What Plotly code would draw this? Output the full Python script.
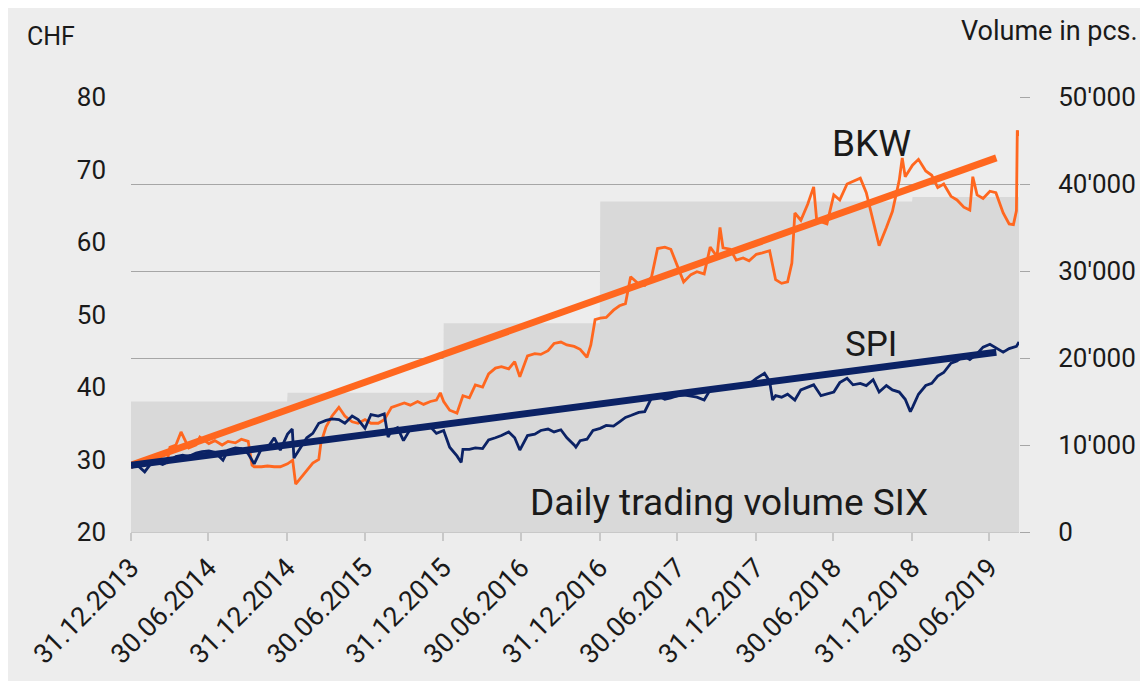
import plotly.graph_objects as go

# ---------------- data ----------------
bkw_dates = ["2013-12-31","2014-01-15","2014-02-01","2014-02-15","2014-03-01","2014-03-15","2014-03-25","2014-04-01","2014-04-15","2014-04-27","2014-05-15","2014-06-01","2014-06-10","2014-07-01","2014-07-15","2014-08-01","2014-08-15","2014-09-01","2014-09-15","2014-10-01","2014-10-10","2014-10-15","2014-11-01","2014-11-15","2014-12-01","2014-12-15","2015-01-01","2015-01-13","2015-01-20","2015-02-01","2015-02-15","2015-03-01","2015-03-15","2015-03-20","2015-04-01","2015-04-15","2015-05-01","2015-05-15","2015-06-01","2015-06-15","2015-07-01","2015-07-15","2015-08-01","2015-08-15","2015-09-01","2015-09-15","2015-10-01","2015-10-15","2015-11-01","2015-11-15","2015-12-01","2015-12-15","2015-12-24","2016-01-01","2016-01-15","2016-02-01","2016-02-15","2016-03-01","2016-03-15","2016-04-01","2016-04-15","2016-05-01","2016-05-15","2016-06-01","2016-06-15","2016-06-27","2016-07-15","2016-08-01","2016-08-15","2016-09-01","2016-09-15","2016-10-01","2016-10-15","2016-11-01","2016-11-15","2016-12-01","2016-12-10","2016-12-20","2017-01-01","2017-01-15","2017-02-01","2017-02-15","2017-03-01","2017-03-13","2017-04-01","2017-04-15","2017-05-01","2017-05-15","2017-06-01","2017-06-15","2017-07-01","2017-07-15","2017-08-01","2017-08-15","2017-09-01","2017-09-15","2017-10-01","2017-10-08","2017-10-15","2017-11-01","2017-11-15","2017-12-01","2017-12-15","2018-01-01","2018-01-15","2018-02-01","2018-02-15","2018-03-01","2018-03-15","2018-03-25","2018-04-01","2018-04-15","2018-05-01","2018-05-15","2018-05-22","2018-06-01","2018-06-15","2018-07-01","2018-07-15","2018-08-01","2018-08-15","2018-09-01","2018-09-15","2018-10-01","2018-10-15","2018-11-01","2018-11-15","2018-12-01","2018-12-08","2018-12-15","2019-01-01","2019-01-15","2019-02-01","2019-02-15","2019-03-01","2019-03-15","2019-04-01","2019-04-15","2019-05-01","2019-05-15","2019-05-22","2019-06-01","2019-06-15","2019-07-01","2019-07-15","2019-08-01","2019-08-15","2019-08-25","2019-09-01","2019-09-03","2019-09-07"]
bkw_values = [28.9,29.3,29.4,29.8,29.5,29.9,29.6,31.7,32.0,33.8,31.6,32.0,33.1,32.2,32.6,32.0,32.5,32.3,32.8,32.5,29.2,29.0,29.0,29.1,29.0,29.0,29.4,29.9,26.6,27.5,28.5,29.5,30.0,32.3,34.5,36.0,37.2,36.0,35.2,35.0,35.5,35.0,35.0,35.5,37.2,37.5,37.8,37.5,38.0,37.6,38.0,38.2,39.2,38.0,36.8,36.4,38.8,38.5,40.3,40.0,41.8,42.6,42.8,42.5,43.5,41.4,44.3,44.6,44.5,45.0,46.0,46.2,45.8,45.6,45.2,44.1,45.8,49.3,49.5,49.6,50.6,51.2,51.5,55.2,54.2,54.0,55.2,59.1,59.3,59.0,56.6,54.5,55.5,55.9,55.6,59.3,58.0,62.0,59.2,59.0,57.5,57.8,57.4,58.3,58.5,58.8,54.8,54.3,54.5,57.1,64.0,63.0,65.2,67.6,63.0,62.8,62.5,66.5,65.8,68.0,68.4,68.8,66.8,62.8,59.5,62.0,64.2,68.5,71.6,69.0,70.6,71.4,69.8,69.2,67.5,68.0,66.3,65.8,64.8,64.4,69.0,66.5,66.0,67.0,66.8,64.0,62.5,62.4,64.3,75.4,74.6]

spi_dates = ["2013-12-31","2014-01-15","2014-02-01","2014-02-15","2014-03-01","2014-03-15","2014-04-01","2014-04-15","2014-05-01","2014-05-15","2014-06-01","2014-06-15","2014-07-01","2014-07-15","2014-08-03","2014-08-15","2014-09-01","2014-09-15","2014-10-01","2014-10-15","2014-11-01","2014-11-15","2014-12-01","2014-12-15","2015-01-01","2015-01-12","2015-01-16","2015-02-01","2015-02-15","2015-03-01","2015-03-15","2015-04-01","2015-04-15","2015-05-01","2015-05-15","2015-06-01","2015-06-15","2015-07-01","2015-07-15","2015-08-01","2015-08-15","2015-08-24","2015-09-01","2015-09-15","2015-09-29","2015-10-15","2015-11-01","2015-11-15","2015-12-01","2015-12-15","2016-01-01","2016-01-15","2016-02-01","2016-02-11","2016-02-15","2016-03-01","2016-03-15","2016-04-01","2016-04-15","2016-05-01","2016-05-15","2016-06-01","2016-06-15","2016-06-27","2016-07-15","2016-08-01","2016-08-15","2016-09-01","2016-09-15","2016-10-01","2016-10-15","2016-11-01","2016-11-05","2016-11-15","2016-12-01","2016-12-15","2017-01-01","2017-01-15","2017-02-01","2017-02-15","2017-03-01","2017-03-15","2017-04-01","2017-04-15","2017-05-01","2017-05-15","2017-06-01","2017-06-15","2017-07-01","2017-07-15","2017-08-01","2017-08-15","2017-09-01","2017-09-15","2017-10-01","2017-10-15","2017-11-01","2017-11-15","2017-12-01","2017-12-15","2018-01-01","2018-01-20","2018-02-01","2018-02-08","2018-02-15","2018-03-01","2018-03-15","2018-04-01","2018-04-15","2018-05-01","2018-05-15","2018-06-01","2018-06-15","2018-07-01","2018-07-15","2018-08-01","2018-08-15","2018-09-01","2018-09-15","2018-10-01","2018-10-15","2018-11-01","2018-11-15","2018-12-01","2018-12-15","2018-12-27","2019-01-01","2019-01-15","2019-02-01","2019-02-15","2019-03-01","2019-03-15","2019-04-01","2019-04-15","2019-05-01","2019-05-15","2019-06-01","2019-06-15","2019-07-01","2019-07-15","2019-08-01","2019-08-15","2019-09-01","2019-09-07"]
spi_values = [28.9,29.2,28.3,29.4,29.6,29.3,29.8,30.4,30.6,30.4,30.9,31.1,31.2,31.0,29.9,31.3,31.6,31.5,30.8,29.4,31.5,31.6,33.0,31.3,33.5,34.2,30.2,31.7,33.0,33.6,35.0,35.4,35.6,35.5,35.0,36.0,35.5,34.3,36.2,36.0,36.3,33.1,34.0,34.4,32.6,34.2,34.6,34.3,34.5,33.6,34.0,31.7,30.5,29.6,31.4,31.4,31.6,31.5,32.7,33.0,33.3,33.8,33.0,31.3,33.3,33.5,34.0,34.2,33.8,34.1,33.0,32.0,31.7,32.6,32.8,34.0,34.3,34.7,34.6,35.2,35.8,36.1,36.5,36.6,38.5,38.8,38.3,38.5,38.8,38.9,38.7,38.6,38.2,39.6,39.8,39.9,40.2,40.0,40.5,40.4,41.2,41.9,40.8,38.2,38.8,38.6,39.0,38.2,39.6,40.0,40.3,38.8,39.0,39.3,40.6,41.2,40.3,40.5,40.2,41.0,39.3,40.2,39.6,39.3,38.3,36.6,37.2,39.0,40.2,40.5,41.5,42.0,43.3,43.6,44.3,43.8,44.6,45.5,45.9,45.4,44.8,45.3,45.6,46.2]

trend_bkw_dates = ["2013-12-31", "2019-07-16"]
trend_bkw_values = [29.2, 71.6]
trend_spi_dates = ["2013-12-31", "2019-07-16"]
trend_spi_values = [29.2, 44.8]

volume_period_start = ["2013-12-31", "2015-01-01", "2016-01-01", "2017-01-01", "2018-01-01", "2019-01-01"]
volume_period_end = ["2014-12-31", "2015-12-31", "2016-12-31", "2017-12-31", "2018-12-31", "2019-09-07"]
volume_values = [15000, 16000, 24000, 38000, 38000, 38500]

x_tick_dates = ["2013-12-31","2014-06-30","2014-12-31","2015-06-30","2015-12-31","2016-06-30",
                "2016-12-31","2017-06-30","2017-12-31","2018-06-30","2018-12-31","2019-06-30"]
x_tick_labels = ["31.12.2013","30.06.2014","31.12.2014","30.06.2015","31.12.2015","30.06.2016",
                 "31.12.2016","30.06.2017","31.12.2017","30.06.2018","31.12.2018","30.06.2019"]
price_ticks = [20, 30, 40, 50, 60, 70, 80]
volume_ticks = [0, 10000, 20000, 30000, 40000, 50000]
volume_tick_labels = ["0", "10'000", "20'000", "30'000", "40'000", "50'000"]

# ---------------- styling ----------------
FONT = "Roboto"
ORANGE = "#FF671F"
NAVY = "#0B2265"
AREA = "#D9D9D9"
BG = "#EDEDED"
GRID = "#A6A6A6"
TXT = "#1a1a1a"

vx, vy = [], []
for s, e, v in zip(volume_period_start, volume_period_end, volume_values):
    vx += [s, e]
    vy += [v, v]

fig = go.Figure()
fig.add_trace(go.Scatter(x=vx, y=vy, yaxis="y", fill="tozeroy", mode="lines",
                         line=dict(width=0, color=AREA), fillcolor=AREA, hoverinfo="skip"))
fig.add_trace(go.Scatter(x=bkw_dates, y=bkw_values, yaxis="y2", mode="lines",
                         line=dict(color=ORANGE, width=2.8)))
fig.add_trace(go.Scatter(x=spi_dates, y=spi_values, yaxis="y2", mode="lines",
                         line=dict(color=NAVY, width=2.8)))
fig.add_trace(go.Scatter(x=trend_bkw_dates, y=trend_bkw_values, yaxis="y2", mode="lines",
                         line=dict(color=ORANGE, width=7)))
fig.add_trace(go.Scatter(x=trend_spi_dates, y=trend_spi_values, yaxis="y2", mode="lines",
                         line=dict(color=NAVY, width=7)))

# page body has an 8px margin; figure is sized/positioned to compensate
OFF = 8
W, H = 1148 - OFF, 681 - OFF
L, R, T, B = 131 - OFF, 129, 97 - OFF, 149
pw, ph = W - L - R, H - T - B

def px(xp):  # page pixel x -> paper
    return (xp - OFF - L) / pw

def py(yp):  # page pixel y -> paper
    return (H - B - (yp - OFF)) / ph

fig.update_layout(
    width=W, height=H,
    margin=dict(l=L, r=R, t=T, b=B, pad=0),
    paper_bgcolor=BG, plot_bgcolor=BG,
    showlegend=False,
    font=dict(family=FONT, size=25, color=TXT),
    xaxis=dict(type="date", range=["2013-12-31", "2019-09-07"],
               tickvals=x_tick_dates, ticktext=x_tick_labels, tickangle=-45,
               ticks="outside", ticklen=8, tickcolor="#C8C8C8", tickwidth=1.5,
               showgrid=False, showline=True, linecolor="#C8C8C8", linewidth=1,
               zeroline=False, tickfont=dict(size=27)),
    # volume axis: transparent long ticks push labels outward
    yaxis=dict(range=[0, 50000], side="right", tickvals=volume_ticks, ticktext=volume_tick_labels,
               showgrid=True, gridcolor=GRID, gridwidth=1.3, zeroline=False,
               ticks="outside", ticklen=33, tickcolor="rgba(0,0,0,0)",
               tickfont=dict(size=26)),
    # visible short tick marks on the right
    yaxis3=dict(range=[0, 50000], side="right", overlaying="y", tickvals=volume_ticks,
                showticklabels=False, showgrid=False, zeroline=False,
                ticks="outside", ticklen=10, tickcolor=GRID, tickwidth=1.3),
    yaxis2=dict(range=[20, 80], side="left", overlaying="y", tickvals=price_ticks,
                showgrid=False, zeroline=False, ticks="", ticklabelstandoff=24,
                tickfont=dict(size=26)),
    annotations=[
        dict(text="CHF", xref="paper", yref="paper", x=px(25), y=py(37), xanchor="left",
             yanchor="middle", showarrow=False, font=dict(size=25)),
        dict(text="Volume in pcs.", xref="paper", yref="paper", x=px(1140), y=py(31),
             xanchor="right", yanchor="middle", showarrow=False, font=dict(size=27)),
        dict(text="BKW", xref="paper", yref="paper", x=px(871), y=py(143),
             xanchor="center", yanchor="middle", showarrow=False, font=dict(size=37)),
        dict(text="SPI", xref="paper", yref="paper", x=px(871), y=py(344),
             xanchor="center", yanchor="middle", showarrow=False, font=dict(size=35)),
        dict(text="Daily trading volume SIX", xref="paper", yref="paper", x=px(729), y=py(502),
             xanchor="center", yanchor="middle", showarrow=False, font=dict(size=37)),
    ],
)
# invisible marker so the tick-mark axis (yaxis3) is drawn
fig.add_trace(go.Scatter(x=[vx[0]], y=[0], yaxis="y3", mode="markers",
                         marker=dict(opacity=0), hoverinfo="skip"))

fig.write_html("out.html")
